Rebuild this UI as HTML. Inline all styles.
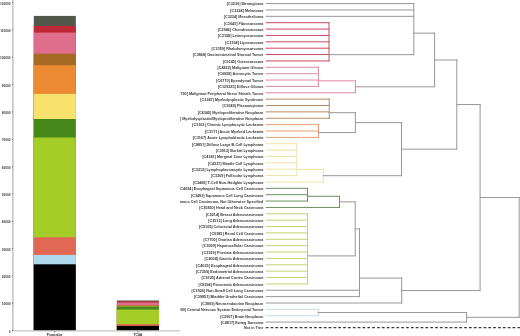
<!DOCTYPE html><html><head><meta charset="utf-8"><style>html,body{margin:0;padding:0;background:#fff;width:520px;height:336px;overflow:hidden}svg{display:block;will-change:transform}text{font-family:"Liberation Sans",sans-serif}</style></head><body>
<svg width="520" height="336" viewBox="0 0 520 336">
<rect x="33.8" y="15.90" width="42.00" height="314.70" fill="#54584c"/>
<rect x="33.8" y="25.90" width="42.00" height="304.70" fill="#be2837"/>
<rect x="33.8" y="32.60" width="42.00" height="298.00" fill="#de6e8c"/>
<rect x="33.8" y="53.70" width="42.00" height="276.90" fill="#a56923"/>
<rect x="33.8" y="65.20" width="42.00" height="265.40" fill="#ec8a32"/>
<rect x="33.8" y="93.90" width="42.00" height="236.70" fill="#f8e26e"/>
<rect x="33.8" y="119.00" width="42.00" height="211.60" fill="#468719"/>
<rect x="33.8" y="137.50" width="42.00" height="193.10" fill="#a5cd28"/>
<rect x="33.8" y="237.30" width="42.00" height="93.30" fill="#e06854"/>
<rect x="33.8" y="254.90" width="42.00" height="75.70" fill="#aed8ec"/>
<rect x="33.8" y="264.30" width="42.00" height="66.30" fill="#000000"/>
<rect x="116.9" y="300.50" width="42.10" height="30.10" fill="#54584c"/>
<rect x="116.9" y="301.30" width="42.10" height="29.30" fill="#be2837"/>
<rect x="116.9" y="302.40" width="42.10" height="28.20" fill="#de6e8c"/>
<rect x="116.9" y="305.30" width="42.10" height="25.30" fill="#a56923"/>
<rect x="116.9" y="305.70" width="42.10" height="24.90" fill="#ec8a32"/>
<rect x="116.9" y="306.00" width="42.10" height="24.60" fill="#f8e26e"/>
<rect x="116.9" y="306.30" width="42.10" height="24.30" fill="#468719"/>
<rect x="116.9" y="309.60" width="42.10" height="21.00" fill="#a5cd28"/>
<rect x="116.9" y="324.10" width="42.10" height="6.50" fill="#e06854"/>
<rect x="116.9" y="325.90" width="42.10" height="4.70" fill="#000000"/>
<line x1="12.9" y1="0" x2="12.9" y2="331.5" stroke="#c4c4c4" stroke-width="1.6"/>
<line x1="12.1" y1="330.9" x2="180" y2="330.9" stroke="#c4c4c4" stroke-width="1.3"/>
<line x1="11.9" y1="330.60" x2="13.0" y2="330.60" stroke="#666" stroke-width="0.9"/>
<text x="10.5" y="332.60" font-size="3.17" font-weight="bold" fill="#3a3a3a" text-anchor="end">0</text>
<line x1="11.9" y1="303.27" x2="13.0" y2="303.27" stroke="#666" stroke-width="0.9"/>
<text x="10.5" y="305.27" font-size="3.17" font-weight="bold" fill="#3a3a3a" text-anchor="end">10000</text>
<line x1="11.9" y1="275.94" x2="13.0" y2="275.94" stroke="#666" stroke-width="0.9"/>
<text x="10.5" y="277.94" font-size="3.17" font-weight="bold" fill="#3a3a3a" text-anchor="end">20000</text>
<line x1="11.9" y1="248.61" x2="13.0" y2="248.61" stroke="#666" stroke-width="0.9"/>
<text x="10.5" y="250.61" font-size="3.17" font-weight="bold" fill="#3a3a3a" text-anchor="end">30000</text>
<line x1="11.9" y1="221.28" x2="13.0" y2="221.28" stroke="#666" stroke-width="0.9"/>
<text x="10.5" y="223.28" font-size="3.17" font-weight="bold" fill="#3a3a3a" text-anchor="end">40000</text>
<line x1="11.9" y1="193.95" x2="13.0" y2="193.95" stroke="#666" stroke-width="0.9"/>
<text x="10.5" y="195.95" font-size="3.17" font-weight="bold" fill="#3a3a3a" text-anchor="end">50000</text>
<line x1="11.9" y1="166.62" x2="13.0" y2="166.62" stroke="#666" stroke-width="0.9"/>
<text x="10.5" y="168.62" font-size="3.17" font-weight="bold" fill="#3a3a3a" text-anchor="end">60000</text>
<line x1="11.9" y1="139.29" x2="13.0" y2="139.29" stroke="#666" stroke-width="0.9"/>
<text x="10.5" y="141.29" font-size="3.17" font-weight="bold" fill="#3a3a3a" text-anchor="end">70000</text>
<line x1="11.9" y1="111.96" x2="13.0" y2="111.96" stroke="#666" stroke-width="0.9"/>
<text x="10.5" y="113.96" font-size="3.17" font-weight="bold" fill="#3a3a3a" text-anchor="end">80000</text>
<line x1="11.9" y1="84.63" x2="13.0" y2="84.63" stroke="#666" stroke-width="0.9"/>
<text x="10.5" y="86.63" font-size="3.17" font-weight="bold" fill="#3a3a3a" text-anchor="end">90000</text>
<line x1="11.9" y1="57.30" x2="13.0" y2="57.30" stroke="#666" stroke-width="0.9"/>
<text x="10.5" y="59.30" font-size="3.17" font-weight="bold" fill="#3a3a3a" text-anchor="end">100000</text>
<line x1="11.9" y1="29.97" x2="13.0" y2="29.97" stroke="#666" stroke-width="0.9"/>
<text x="10.5" y="31.97" font-size="3.17" font-weight="bold" fill="#3a3a3a" text-anchor="end">110000</text>
<line x1="11.9" y1="2.64" x2="13.0" y2="2.64" stroke="#666" stroke-width="0.9"/>
<text x="10.5" y="4.64" font-size="3.17" font-weight="bold" fill="#3a3a3a" text-anchor="end">120000</text>
<line x1="54.8" y1="331" x2="54.8" y2="332.6" stroke="#555" stroke-width="0.7"/><line x1="137.9" y1="331" x2="137.9" y2="332.6" stroke="#555" stroke-width="0.7"/>
<text x="54.7" y="335.9" font-size="3.1" font-weight="bold" fill="#1a1a1a" text-anchor="middle">Progenitor</text>
<text x="137.9" y="335.9" font-size="3.1" font-weight="bold" fill="#1a1a1a" text-anchor="middle">TCGA</text>
<g fill="none" stroke-width="1.0" stroke-linecap="square">
<path d="M266.20 22.71L329.00 22.71" stroke="#c84a60"/>
<path d="M266.20 29.08L329.00 29.08" stroke="#c84a60"/>
<path d="M266.20 35.45L329.00 35.45" stroke="#c84a60"/>
<path d="M266.20 41.82L329.00 41.82" stroke="#c84a60"/>
<path d="M266.20 48.19L329.00 48.19" stroke="#c84a60"/>
<path d="M266.20 54.56L329.00 54.56" stroke="#c84a60"/>
<path d="M266.20 60.93L329.00 60.93" stroke="#c84a60"/>
<path d="M329.00 22.71L329.00 60.93" stroke="#c84a60"/>
<path d="M266.20 3.60L413.80 3.60" stroke="#979797"/>
<path d="M266.20 9.97L413.80 9.97" stroke="#979797"/>
<path d="M266.20 16.34L413.80 16.34" stroke="#979797"/>
<path d="M329.00 54.66L413.80 54.66" stroke="#979797"/>
<path d="M413.80 3.60L413.80 54.66" stroke="#979797"/>
<path d="M266.20 67.30L318.40 67.30" stroke="#dc8aa6"/>
<path d="M266.20 73.67L318.40 73.67" stroke="#dc8aa6"/>
<path d="M266.20 80.04L318.40 80.04" stroke="#dc8aa6"/>
<path d="M266.20 86.41L318.40 86.41" stroke="#dc8aa6"/>
<path d="M318.40 67.30L318.40 86.41" stroke="#dc8aa6"/>
<path d="M318.40 80.84L355.40 80.84" stroke="#dc8aa6"/>
<path d="M266.20 92.78L355.40 92.78" stroke="#dc8aa6"/>
<path d="M355.40 80.84L355.40 92.78" stroke="#dc8aa6"/>
<path d="M355.40 86.81L434.60 86.81" stroke="#979797"/>
<path d="M413.80 33.11L434.60 33.11" stroke="#979797"/>
<path d="M434.60 33.11L434.60 86.81" stroke="#979797"/>
<path d="M266.20 99.15L329.20 99.15" stroke="#b98b64"/>
<path d="M266.20 105.52L329.20 105.52" stroke="#b98b64"/>
<path d="M266.20 111.89L329.20 111.89" stroke="#b98b64"/>
<path d="M266.20 118.26L329.20 118.26" stroke="#b98b64"/>
<path d="M329.20 99.15L329.20 118.26" stroke="#b98b64"/>
<path d="M266.20 124.63L318.50 124.63" stroke="#e9a074"/>
<path d="M266.20 131.00L318.50 131.00" stroke="#e9a074"/>
<path d="M266.20 137.37L318.50 137.37" stroke="#e9a074"/>
<path d="M318.50 124.63L318.50 137.37" stroke="#e9a074"/>
<path d="M329.20 112.69L355.40 112.69" stroke="#979797"/>
<path d="M318.50 132.59L355.40 132.59" stroke="#979797"/>
<path d="M355.40 112.69L355.40 132.59" stroke="#979797"/>
<path d="M266.20 143.74L296.90 143.74" stroke="#f3e3a2"/>
<path d="M266.20 150.11L296.90 150.11" stroke="#f3e3a2"/>
<path d="M266.20 156.48L296.90 156.48" stroke="#f3e3a2"/>
<path d="M266.20 162.85L296.90 162.85" stroke="#f3e3a2"/>
<path d="M266.20 169.22L296.90 169.22" stroke="#f3e3a2"/>
<path d="M266.20 175.59L296.90 175.59" stroke="#f3e3a2"/>
<path d="M296.90 143.74L296.90 175.59" stroke="#f3e3a2"/>
<path d="M296.90 169.42L323.40 169.42" stroke="#f3e3a2"/>
<path d="M266.20 181.96L323.40 181.96" stroke="#f3e3a2"/>
<path d="M323.40 169.42L323.40 181.96" stroke="#f3e3a2"/>
<path d="M355.40 122.64L401.50 122.64" stroke="#979797"/>
<path d="M323.40 175.69L401.50 175.69" stroke="#979797"/>
<path d="M401.50 122.64L401.50 175.69" stroke="#979797"/>
<path d="M434.60 59.96L456.80 59.96" stroke="#979797"/>
<path d="M401.50 149.16L456.80 149.16" stroke="#979797"/>
<path d="M456.80 59.96L456.80 149.16" stroke="#979797"/>
<path d="M266.20 188.33L307.50 188.33" stroke="#6a905e"/>
<path d="M266.20 194.70L307.50 194.70" stroke="#6a905e"/>
<path d="M266.20 201.07L307.50 201.07" stroke="#6a905e"/>
<path d="M307.50 188.33L307.50 201.07" stroke="#6a905e"/>
<path d="M307.50 196.29L339.50 196.29" stroke="#6a905e"/>
<path d="M266.20 207.44L339.50 207.44" stroke="#6a905e"/>
<path d="M339.50 196.29L339.50 207.44" stroke="#6a905e"/>
<path d="M266.20 213.81L307.50 213.81" stroke="#c0d470"/>
<path d="M266.20 220.18L307.50 220.18" stroke="#c0d470"/>
<path d="M266.20 226.55L307.50 226.55" stroke="#c0d470"/>
<path d="M266.20 232.92L307.50 232.92" stroke="#c0d470"/>
<path d="M266.20 239.29L307.50 239.29" stroke="#c0d470"/>
<path d="M266.20 245.66L307.50 245.66" stroke="#c0d470"/>
<path d="M266.20 252.03L307.50 252.03" stroke="#c0d470"/>
<path d="M266.20 258.40L307.50 258.40" stroke="#c0d470"/>
<path d="M266.20 264.77L307.50 264.77" stroke="#c0d470"/>
<path d="M266.20 271.14L307.50 271.14" stroke="#c0d470"/>
<path d="M266.20 277.51L307.50 277.51" stroke="#c0d470"/>
<path d="M266.20 283.88L307.50 283.88" stroke="#c0d470"/>
<path d="M307.50 213.81L307.50 283.88" stroke="#c0d470"/>
<path d="M339.50 201.87L355.20 201.87" stroke="#979797"/>
<path d="M307.50 255.90L355.20 255.90" stroke="#979797"/>
<path d="M355.20 201.87L355.20 255.90" stroke="#979797"/>
<path d="M355.20 228.88L359.50 228.88" stroke="#979797"/>
<path d="M266.20 290.25L359.50 290.25" stroke="#979797"/>
<path d="M266.20 296.62L359.50 296.62" stroke="#979797"/>
<path d="M359.50 228.88L359.50 296.62" stroke="#979797"/>
<path d="M359.50 278.09L401.70 278.09" stroke="#979797"/>
<path d="M266.20 302.99L401.70 302.99" stroke="#979797"/>
<path d="M401.70 278.09L401.70 302.99" stroke="#979797"/>
<path d="M456.80 104.56L480.10 104.56" stroke="#979797"/>
<path d="M401.70 290.54L480.10 290.54" stroke="#979797"/>
<path d="M480.10 104.56L480.10 290.54" stroke="#979797"/>
<path d="M266.20 309.36L318.30 309.36" stroke="#c3dce1"/>
<path d="M266.20 315.73L318.30 315.73" stroke="#c3dce1"/>
<path d="M318.30 309.36L318.30 315.73" stroke="#c3dce1"/>
<path d="M318.30 312.55L466.60 312.55" stroke="#979797"/>
<path d="M266.20 322.10L466.60 322.10" stroke="#979797"/>
<path d="M466.60 312.55L466.60 322.10" stroke="#979797"/>
<path d="M480.10 197.55L519.20 197.55" stroke="#979797"/>
<path d="M466.60 317.32L519.20 317.32" stroke="#979797"/>
<path d="M519.20 197.55L519.20 317.32" stroke="#979797"/>
</g>
<line x1="265.7" y1="327.60" x2="520" y2="327.60" stroke="#3a3a3a" stroke-width="1.1" stroke-dasharray="2.75 2.09"/>
<defs><filter id="tb" x="-5%" y="-50%" width="110%" height="200%"><feGaussianBlur stdDeviation="0.3"/><feComponentTransfer><feFuncA type="linear" slope="1.3"/></feComponentTransfer></filter></defs>
<defs><clipPath id="lc"><rect x="180" y="0" width="90" height="336"/></clipPath></defs>
<g clip-path="url(#lc)"><g transform="translate(263.6 0) scale(1.0 1) translate(-263.6 0)"><g transform="scale(1.000000)" font-size="3.750" font-weight="bold" fill="#383838" stroke="#383838" stroke-width="0.000" text-anchor="end">
<text x="263.30" y="5.40">[C3230] Meningioma</text>
<text x="263.30" y="11.77">[C3224] Melanoma</text>
<text x="263.30" y="18.14">[C3234] Mesothelioma</text>
<text x="263.30" y="24.51">[C3043] Fibrosarcoma</text>
<text x="263.30" y="30.88">[C2946] Chondrosarcoma</text>
<text x="263.30" y="37.25">[C3158] Leiomyosarcoma</text>
<text x="263.30" y="43.62">[C3194] Liposarcoma</text>
<text x="263.30" y="49.99">[C3359] Rhabdomyosarcoma</text>
<text x="263.30" y="56.36">[C3868] Gastrointestinal Stromal Tumor</text>
<text x="263.30" y="62.73">[C9145] Osteosarcoma</text>
<text x="263.30" y="69.10">[C4822] Malignant Glioma</text>
<text x="263.30" y="75.47">[C6958] Astrocytic Tumor</text>
<text x="263.30" y="81.84">[C6770] Ependymal Tumor</text>
<text x="263.30" y="88.21">[C129325] Diffuse Glioma</text>
<text x="263.30" y="94.58">[C3790] Malignant Peripheral Nerve Sheath Tumor</text>
<text x="263.30" y="100.95">[C3247] Myelodysplastic Syndrome</text>
<text x="263.30" y="107.32">[C9349] Plasmacytoma</text>
<text x="263.30" y="113.69">[C4345] Myeloproliferative Neoplasm</text>
<text x="263.30" y="120.06">[C27262] Myelodysplastic/Myeloproliferative Neoplasm</text>
<text x="263.30" y="126.43">[C3163] Chronic Lymphocytic Leukemia</text>
<text x="263.30" y="132.80">[C3171] Acute Myeloid Leukemia</text>
<text x="263.30" y="139.17">[C3167] Acute Lymphoblastic Leukemia</text>
<text x="263.30" y="145.54">[C8851] Diffuse Large B-Cell Lymphoma</text>
<text x="263.30" y="151.91">[C2912] Burkitt Lymphoma</text>
<text x="263.30" y="158.28">[C4341] Marginal Zone Lymphoma</text>
<text x="263.30" y="164.65">[C4337] Mantle Cell Lymphoma</text>
<text x="263.30" y="171.02">[C3212] Lymphoplasmacytic Lymphoma</text>
<text x="263.30" y="177.39">[C3209] Follicular Lymphoma</text>
<text x="263.30" y="183.76">[C3466] T-Cell Non-Hodgkin Lymphoma</text>
<text x="263.30" y="190.13">[C4024] Esophageal Squamous Cell Carcinoma</text>
<text x="263.30" y="196.50">[C3493] Squamous Cell Lung Carcinoma</text>
<text x="263.30" y="202.87">[C2929] Squamous Cell Carcinoma, Not Otherwise Specified</text>
<text x="263.30" y="209.24">[C35850] Head and Neck Carcinoma</text>
<text x="263.30" y="215.61">[C5214] Breast Adenocarcinoma</text>
<text x="263.30" y="221.98">[C3512] Lung Adenocarcinoma</text>
<text x="263.30" y="228.35">[C5105] Colorectal Adenocarcinoma</text>
<text x="263.30" y="234.72">[C9385] Renal Cell Carcinoma</text>
<text x="263.30" y="241.09">[C7700] Ovarian Adenocarcinoma</text>
<text x="263.30" y="247.46">[C3099] Hepatocellular Carcinoma</text>
<text x="263.30" y="253.83">[C2919] Prostate Adenocarcinoma</text>
<text x="263.30" y="260.20">[C4004] Gastric Adenocarcinoma</text>
<text x="263.30" y="266.57">[C4025] Esophageal Adenocarcinoma</text>
<text x="263.30" y="272.94">[C7359] Endometrial Adenocarcinoma</text>
<text x="263.30" y="279.31">[C9325] Adrenal Cortex Carcinoma</text>
<text x="263.30" y="285.68">[C8294] Pancreatic Adenocarcinoma</text>
<text x="263.30" y="292.05">[C2926] Non-Small Cell Lung Carcinoma</text>
<text x="263.30" y="298.42">[C39851] Bladder Urothelial Carcinoma</text>
<text x="263.30" y="304.79">[C3809] Neuroendocrine Neoplasm</text>
<text x="263.30" y="311.16">[C6990] Central Nervous System Embryonal Tumor</text>
<text x="263.30" y="317.53">[C2907] Brain Neoplasm</text>
<text x="263.30" y="323.90">[C4817] Ewing Sarcoma</text>
<text x="263.30" y="329.40">Not in Tree</text>
</g></g></g>
</svg></body></html>
